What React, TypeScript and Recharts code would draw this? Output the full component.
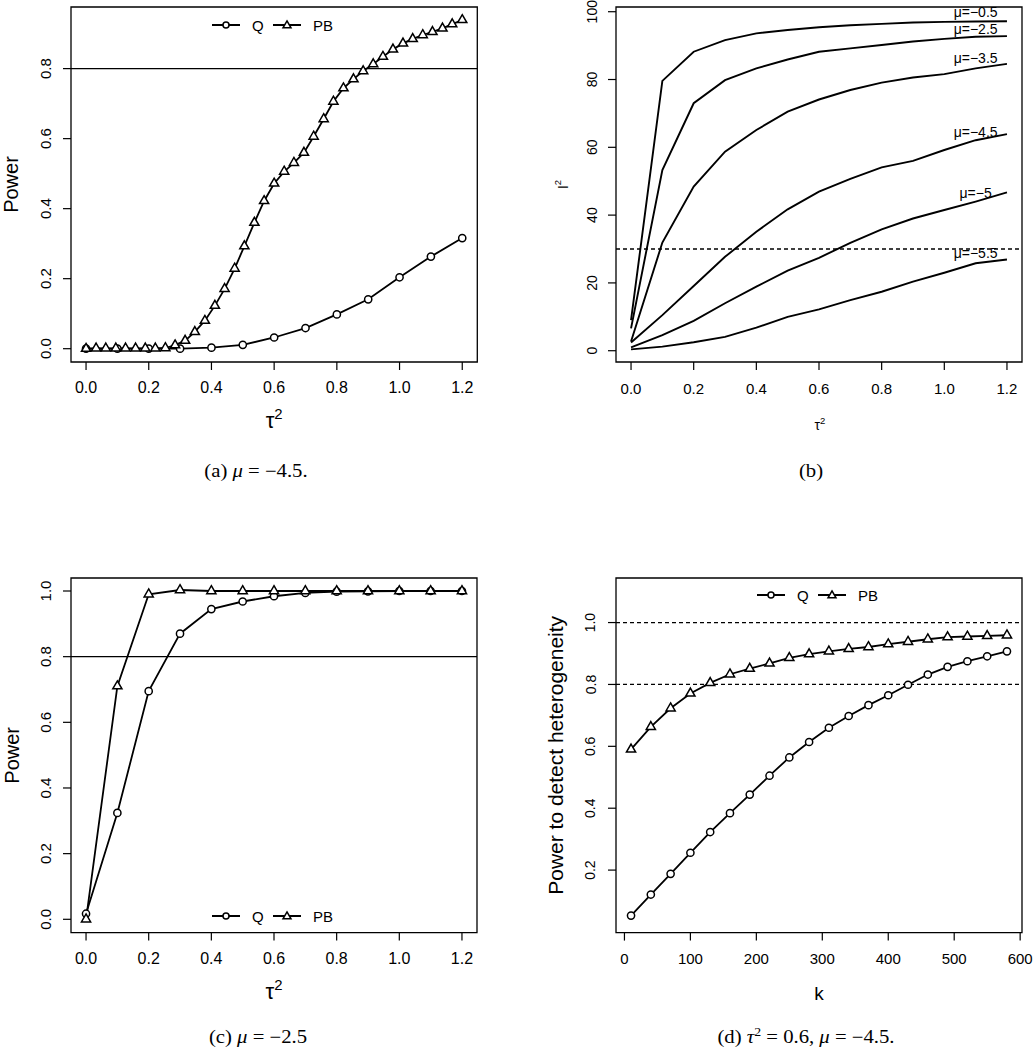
import React from 'react';
import { LineChart, Line, XAxis, YAxis, ReferenceLine, ReferenceArea, ReferenceDot, Legend } from 'recharts';

const SANS = '"Liberation Sans", Arial, Helvetica, sans-serif';
const SERIF = '"Liberation Serif", "Times New Roman", serif';

// ---------- series names ----------
const seriesNames = ['Q', 'PB'];

// ---------- Panel (a): mu = -4.5 ----------
const tauQA = [0, 0.1, 0.2, 0.3, 0.4, 0.5, 0.6, 0.7, 0.8, 0.9, 1.0, 1.1, 1.2];
const powerQA = [0, 0, 0, 0, 0.003, 0.011, 0.032, 0.059, 0.098, 0.141, 0.204, 0.263, 0.316];
const tauPBA = [0, 0.032, 0.063, 0.095, 0.126, 0.158, 0.189, 0.221, 0.253, 0.284, 0.316, 0.347, 0.379, 0.411, 0.442, 0.474, 0.505, 0.537, 0.568, 0.6, 0.632, 0.663, 0.695, 0.726, 0.758, 0.789, 0.821, 0.853, 0.884, 0.916, 0.947, 0.979, 1.011, 1.042, 1.074, 1.105, 1.137, 1.168, 1.2];
const powerPBA = [0, 0.001, 0.001, 0.001, 0.001, 0.001, 0.001, 0.001, 0.002, 0.01, 0.023, 0.048, 0.08, 0.123, 0.171, 0.229, 0.293, 0.36, 0.422, 0.472, 0.506, 0.531, 0.56, 0.606, 0.656, 0.706, 0.744, 0.77, 0.793, 0.813, 0.834, 0.855, 0.872, 0.885, 0.896, 0.905, 0.915, 0.927, 0.939];

// ---------- Panel (b): I^2 vs tau^2 ----------
const tauB = [0, 0.1, 0.2, 0.3, 0.4, 0.5, 0.6, 0.7, 0.8, 0.9, 1.0, 1.1, 1.2];
const i2Mu05 = [9.0, 79.6, 88.2, 91.6, 93.6, 94.6, 95.4, 96.0, 96.4, 96.8, 97.0, 97.1, 97.2];
const i2Mu25 = [6.6, 53.3, 73.0, 79.8, 83.3, 85.9, 88.2, 89.2, 90.2, 91.2, 92.0, 92.6, 92.8];
const i2Mu35 = [2.7, 31.9, 48.4, 58.7, 65.1, 70.5, 74.1, 76.9, 79.1, 80.6, 81.6, 83.3, 84.6];
const i2Mu45 = [2.4, 10.5, 19.1, 27.7, 35.1, 41.7, 46.9, 50.7, 54.1, 56.0, 59.2, 62.1, 63.9];
const i2Mu50 = [1.0, 4.6, 8.8, 14.0, 18.9, 23.6, 27.4, 31.8, 35.8, 39.0, 41.5, 44.0, 46.7];
const i2Mu55 = [0.4, 1.2, 2.5, 4.1, 6.8, 10.0, 12.2, 14.9, 17.4, 20.4, 23.0, 25.8, 26.9];
const muLabelsB = ['μ=−0.5', 'μ=−2.5', 'μ=−3.5', 'μ=−4.5', 'μ=−5', 'μ=−5.5'];
const muLabelYB = [100.0, 94.8, 86.3, 64.6, 46.6, 28.7];
const muLabelXB = 1.1;

// ---------- Panel (c): mu = -2.5 ----------
const tauC = [0, 0.1, 0.2, 0.3, 0.4, 0.5, 0.6, 0.7, 0.8, 0.9, 1.0, 1.1, 1.2];
const powerQC = [0.017, 0.324, 0.695, 0.870, 0.945, 0.968, 0.984, 0.994, 0.998, 0.999, 1.0, 1.0, 1.0];
const powerPBC = [0.0, 0.71, 0.99, 1.003, 1.0, 1.0, 1.0, 1.0, 1.0, 1.0, 1.0, 1.0, 1.0];

// ---------- Panel (d): tau^2 = 0.6, mu = -4.5 ----------
const kD = [10, 40, 70, 100, 130, 160, 190, 220, 250, 280, 310, 340, 370, 400, 430, 460, 490, 520, 550, 580];
const powerQD = [0.053, 0.121, 0.188, 0.256, 0.323, 0.384, 0.444, 0.505, 0.564, 0.614, 0.660, 0.698, 0.733, 0.765, 0.799, 0.832, 0.857, 0.875, 0.891, 0.907];
const powerPBD = [0.59, 0.663, 0.723, 0.771, 0.805, 0.833, 0.851, 0.868, 0.886, 0.898, 0.907, 0.915, 0.921, 0.930, 0.938, 0.946, 0.953, 0.955, 0.957, 0.959];

// tick labels
const tauTicks = [0, 0.2, 0.4, 0.6, 0.8, 1.0, 1.2];
const kTicks = [0, 100, 200, 300, 400, 500, 600];
const powerTicksA = [0, 0.2, 0.4, 0.6, 0.8];
const powerTicksC = [0, 0.2, 0.4, 0.6, 0.8, 1.0];
const powerTicksD = [0.2, 0.4, 0.6, 0.8, 1.0];
const i2Ticks = [0, 20, 40, 60, 80, 100];

const pts = (xs: number[], ys: number[]) => xs.map((x, i) => ({ x, y: ys[i] }));

const CircleDot = (props: any) => {
  const { cx, cy, index } = props;
  if (cx == null || cy == null) return <g key={`c${index}`} />;
  return <circle key={`c${index}`} cx={cx} cy={cy} r={3.6} fill="#fff" stroke="#000" strokeWidth={1.5} />;
};
const triPath = (cx: number, cy: number, r = 5.3) =>
  `M${cx},${cy - r} L${cx + 0.866 * r},${cy + r / 2} L${cx - 0.866 * r},${cy + r / 2} Z`;
const TriDot = (props: any) => {
  const { cx, cy, index } = props;
  if (cx == null || cy == null) return <g key={`t${index}`} />;
  return <path key={`t${index}`} d={triPath(cx, cy)} fill="#fff" stroke="#000" strokeWidth={1.5} />;
};

const LegendQPB = () => (
  <svg width={130} height={20} style={{ display: 'block', overflow: 'visible' }}>
    <line x1={0} x2={28} y1={10} y2={10} stroke="#000" strokeWidth={2} />
    <circle cx={14} cy={10} r={3} fill="#fff" stroke="#000" strokeWidth={1.5} />
    <text x={40} y={10} dominantBaseline="central" fontSize={15} fontFamily={SANS} fill="#000">{seriesNames[0]}</text>
    <line x1={61} x2={89} y1={10} y2={10} stroke="#000" strokeWidth={2} />
    <path d={triPath(75, 10.5, 4.6)} fill="#fff" stroke="#000" strokeWidth={1.5} />
    <text x={101} y={10} dominantBaseline="central" fontSize={15} fontFamily={SANS} fill="#000">{seriesNames[1]}</text>
  </svg>
);

const XTitle = (props: any) => {
  const { px, py, fs, text, sup } = props;
  return (
    <text x={px} y={py} textAnchor="middle" fontSize={fs} fontFamily={SANS} fill="#000">
      {text}
      {sup ? <tspan dy={-fs * 0.42} fontSize={fs * 0.68}>{sup}</tspan> : null}
    </text>
  );
};
const YTitle = (props: any) => {
  const { px, py, fs, text, sup } = props;
  return (
    <text x={px} y={py} transform={`rotate(-90, ${px}, ${py})`} textAnchor="middle" dominantBaseline="central" fontSize={fs} fontFamily={SANS} fill="#000">
      {text}
      {sup ? <tspan dy={-fs * 0.4} fontSize={fs * 0.68}>{sup}</tspan> : null}
    </text>
  );
};

type PanelProps = {
  bx: number; by: number; bw: number; bh: number;
  xDomain: [number, number]; xTicks: number[]; xDigits: number;
  yDomain: [number, number]; yTicks: number[]; yDigits: number;
  tickFs: number; yTickOff: number; xTickOff: number;
  xTitle: React.ReactElement; yTitle: React.ReactElement;
  legendPos?: { left: number; top: number };
  children: React.ReactNode;
};

const L = 80; const T = 10;

function Panel(p: PanelProps) {
  const W = p.bw + 100;
  const H = p.bh + 90;
  const XTick = (tp: any) => (
    <text x={tp.x} y={T + p.bh + p.xTickOff} textAnchor="middle" dominantBaseline="central" fontSize={p.tickFs} fontFamily={SANS} fill="#000">
      {Number(tp.payload.value).toFixed(p.xDigits)}
    </text>
  );
  const YTick = (tp: any) => {
    const x = L - p.yTickOff;
    return (
      <text x={x} y={tp.y} transform={`rotate(-90, ${x}, ${tp.y})`} textAnchor="middle" dominantBaseline="central" fontSize={p.tickFs - 1} fontFamily={SANS} fill="#000">
        {Number(tp.payload.value).toFixed(p.yDigits)}
      </text>
    );
  };
  return (
    <div style={{ position: 'absolute', left: p.bx - L, top: p.by - T, width: W, height: H }}>
      <LineChart width={W} height={H} margin={{ top: T, right: 20, bottom: 0, left: 0 }}>
        <XAxis type="number" dataKey="x" domain={p.xDomain} ticks={p.xTicks} allowDataOverflow interval={0}
          axisLine={false} tickSize={8} tickMargin={0} tickLine={{ stroke: '#000', strokeWidth: 1.2 }}
          tick={XTick} height={80} label={p.xTitle} />
        <YAxis type="number" domain={p.yDomain} ticks={p.yTicks} allowDataOverflow interval={0}
          axisLine={false} tickSize={8} tickMargin={0} tickLine={{ stroke: '#000', strokeWidth: 1.2 }}
          tick={YTick} width={L} label={p.yTitle} />
        <ReferenceArea x1={p.xDomain[0]} x2={p.xDomain[1]} y1={p.yDomain[0]} y2={p.yDomain[1]}
          fill="none" fillOpacity={0} stroke="#000" strokeWidth={1.3} ifOverflow="visible" />
        {p.children}
        {p.legendPos ? (
          <Legend layout="horizontal" align="center" verticalAlign="middle" content={<LegendQPB />}
            wrapperStyle={{ position: 'absolute', left: p.legendPos.left, top: p.legendPos.top, width: 130, height: 20, margin: 0, padding: 0 }} />
        ) : null}
      </LineChart>
    </div>
  );
}

const Caption = ({ cx, cy, children }: { cx: number; cy: number; children: React.ReactNode }) => (
  <div style={{ position: 'absolute', left: cx - 200, top: cy - 12, width: 400, height: 24, lineHeight: '24px', textAlign: 'center', fontFamily: SERIF, fontSize: 18, color: '#000', whiteSpace: 'nowrap', transform: 'scaleX(1.15)' }}>
    {children}
  </div>
);

export default function App() {
  const qA = pts(tauQA, powerQA);
  const pbA = pts(tauPBA, powerPBA);
  const dataB = tauB.map((x, i) => ({ x, m05: i2Mu05[i], m25: i2Mu25[i], m35: i2Mu35[i], m45: i2Mu45[i], m50: i2Mu50[i], m55: i2Mu55[i] }));
  const qC = pts(tauC, powerQC);
  const pbC = pts(tauC, powerPBC);
  const qD = pts(kD, powerQD);
  const pbD = pts(kD, powerPBD);
  const seriesB = ['m05', 'm25', 'm35', 'm45', 'm50', 'm55'];

  const A = { bx: 70.7, by: 7, bw: 406.3, bh: 355 };
  const B = { bx: 616, by: 7, bw: 406, bh: 355 };
  const C = { bx: 70.7, by: 577.7, bw: 406, bh: 354.6 };
  const D = { bx: 616, by: 577.7, bw: 406, bh: 354.6 };

  const LW = 1.8;

  return (
    <div style={{ position: 'absolute', left: 0, top: 0, width: 1033, height: 1050, background: '#fff', overflow: 'hidden' }}>
      {/* (a) */}
      <Panel {...A} xDomain={[-0.048, 1.248]} xTicks={tauTicks} xDigits={1} yDomain={[-0.038, 0.976]} yTicks={powerTicksA} yDigits={1}
        tickFs={16} yTickOff={25.7} xTickOff={26}
        xTitle={<XTitle px={L + A.bw / 2} py={431} fs={22} text="τ" sup="2" />}
        yTitle={<YTitle px={20.5} py={T + A.bh / 2} fs={20} text="Power" />}
        legendPos={{ left: 212 - (A.bx - L), top: 15 - (A.by - T) }}>
        <ReferenceLine y={0.8} stroke="#000" strokeWidth={1.3} />
        <Line data={qA} dataKey="y" name={seriesNames[0]} type="linear" stroke="#000" strokeWidth={LW} dot={CircleDot} isAnimationActive={false} />
        <Line data={pbA} dataKey="y" name={seriesNames[1]} type="linear" stroke="#000" strokeWidth={LW} dot={TriDot} isAnimationActive={false} />
      </Panel>

      {/* (b) */}
      <Panel {...B} xDomain={[-0.048, 1.248]} xTicks={tauTicks} xDigits={1} yDomain={[-3.33, 101.39]} yTicks={i2Ticks} yDigits={0}
        tickFs={15} yTickOff={24} xTickOff={26}
        xTitle={<XTitle px={284} py={433} fs={14} text="τ" sup="2" />}
        yTitle={<YTitle px={27} py={T + B.bh / 2} fs={14} text="I" sup="2" />}>
        <ReferenceLine y={30} stroke="#000" strokeWidth={1.3} strokeDasharray="4 3" />
        {seriesB.map((k) => (
          <Line key={k} data={dataB} dataKey={k} type="linear" stroke="#000" strokeWidth={1.9} dot={false} isAnimationActive={false} />
        ))}
        {muLabelsB.map((t, i) => (
          <ReferenceDot key={t} x={muLabelXB} y={muLabelYB[i]} r={0} fill="none" stroke="none" ifOverflow="visible"
            label={{ value: t, position: 'center', fontSize: 14, fill: '#000', fontFamily: SANS }} />
        ))}
      </Panel>

      {/* (c) */}
      <Panel {...C} xDomain={[-0.048, 1.248]} xTicks={tauTicks} xDigits={1} yDomain={[-0.0405, 1.0396]} yTicks={powerTicksC} yDigits={1}
        tickFs={16} yTickOff={25.7} xTickOff={26}
        xTitle={<XTitle px={L + C.bw / 2} py={431} fs={22} text="τ" sup="2" />}
        yTitle={<YTitle px={20.5} py={T + C.bh / 2} fs={20} text="Power" />}
        legendPos={{ left: 212 - (C.bx - L), top: 905.7 - (C.by - T) }}>
        <ReferenceLine y={0.8} stroke="#000" strokeWidth={1.3} />
        <Line data={qC} dataKey="y" name={seriesNames[0]} type="linear" stroke="#000" strokeWidth={LW} dot={CircleDot} isAnimationActive={false} />
        <Line data={pbC} dataKey="y" name={seriesNames[1]} type="linear" stroke="#000" strokeWidth={LW} dot={TriDot} isAnimationActive={false} />
      </Panel>

      {/* (d) */}
      <Panel {...D} xDomain={[-12.8, 602.8]} xTicks={kTicks} xDigits={0} yDomain={[-0.002, 1.144]} yTicks={powerTicksD} yDigits={1}
        tickFs={15} yTickOff={25.5} xTickOff={26}
        xTitle={<XTitle px={283} py={432} fs={19} text="k" />}
        yTitle={<YTitle px={19} py={T + D.bh / 2} fs={21} text="Power to detect heterogeneity" />}
        legendPos={{ left: 757 - (D.bx - L), top: 585 - (D.by - T) }}>
        <ReferenceLine y={1.0} stroke="#000" strokeWidth={1.3} strokeDasharray="4 3" />
        <ReferenceLine y={0.8} stroke="#000" strokeWidth={1.3} strokeDasharray="4 3" />
        <Line data={qD} dataKey="y" name={seriesNames[0]} type="linear" stroke="#000" strokeWidth={LW} dot={CircleDot} isAnimationActive={false} />
        <Line data={pbD} dataKey="y" name={seriesNames[1]} type="linear" stroke="#000" strokeWidth={LW} dot={TriDot} isAnimationActive={false} />
      </Panel>

      <Caption cx={256} cy={471}>(a) <i>μ</i> = −4.5.</Caption>
      <Caption cx={811} cy={471}>(b)</Caption>
      <Caption cx={258} cy={1037}>(c) <i>μ</i> = −2.5</Caption>
      <Caption cx={806} cy={1037}>(d) <i>τ</i><sup style={{ fontSize: 12, verticalAlign: 'super', lineHeight: 0 }}>2</sup> = 0.6, <i>μ</i> = −4.5.</Caption>
    </div>
  );
}
